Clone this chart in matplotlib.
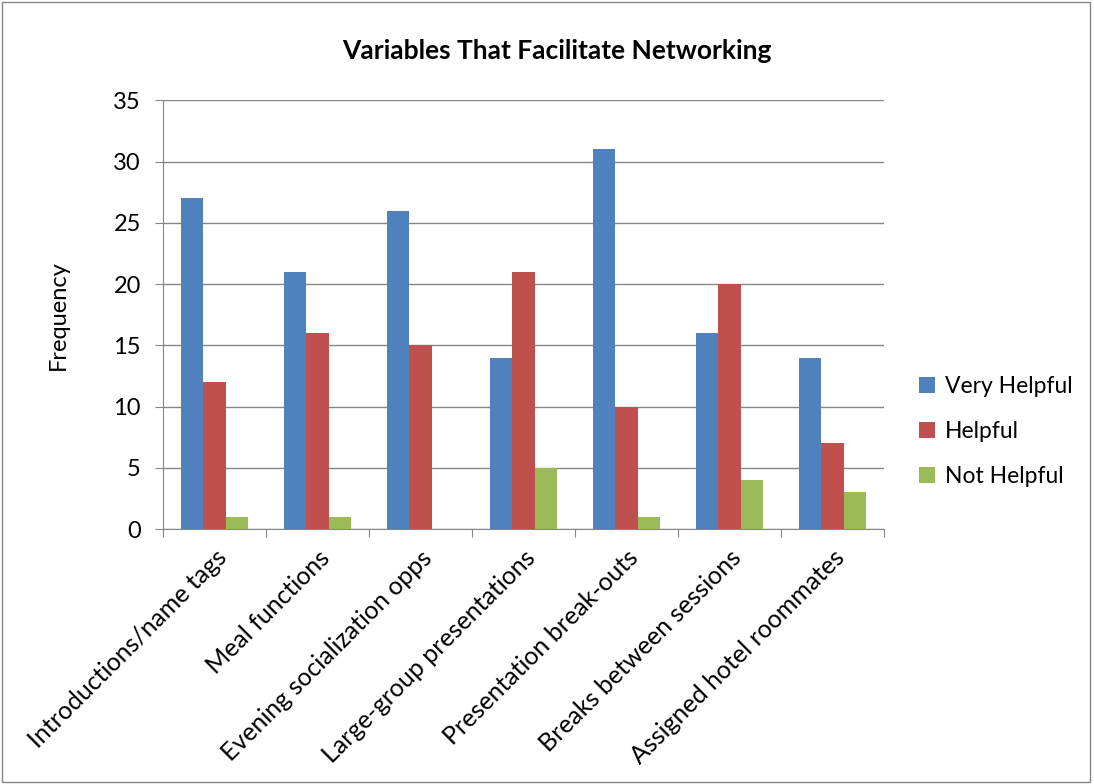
import matplotlib.pyplot as plt
import numpy as np
from matplotlib.patches import Rectangle

plt.rcParams['font.family'] = ['Lato', 'DejaVu Sans']

categories = ['Introductions/name tags', 'Meal functions', 'Evening socialization opps',
              'Large-group presentations', 'Presentation break-outs',
              'Breaks between sessions', 'Assigned hotel roommates']
very_helpful = [27, 21, 26, 14, 31, 16, 14]
helpful = [12, 16, 15, 21, 10, 20, 7]
not_helpful = [1, 1, 0, 5, 1, 4, 3]

fig = plt.figure(figsize=(10.94, 7.84), dpi=100)
ax = fig.add_axes([0.149, 0.325, 0.659, 0.547])

x = np.arange(len(categories))
w = 0.215
ax.bar(x - w, very_helpful, w, color='#4F81BD', label='Very Helpful', zorder=3)
ax.bar(x, helpful, w, color='#C0504D', label='Helpful', zorder=3)
ax.bar(x + w, not_helpful, w, color='#9BBB59', label='Not Helpful', zorder=3)

ax.set_xlim(-0.5, len(categories) - 0.5)
ax.set_ylim(0, 35)
ax.set_yticks(range(0, 36, 5))
ax.yaxis.grid(True, color='#868686', linewidth=1, zorder=0)
ax.set_axisbelow(True)
for s in ['top', 'right']:
    ax.spines[s].set_visible(False)
ax.spines['left'].set_color('#868686')
ax.spines['bottom'].set_color('#868686')

ax.set_xticks(np.arange(len(categories) + 1) - 0.5, minor=False)
ax.set_xticklabels([])
ax.set_xticks(x, minor=True)
ax.set_xticklabels(categories, minor=True, rotation=45, ha='right',
                   rotation_mode='anchor', fontsize=18)
ax.tick_params(axis='x', which='minor', length=0, pad=12)
ax.tick_params(axis='x', which='major', length=6, color='#868686', direction='out')
ax.tick_params(axis='y', length=6, color='#868686', labelsize=17, pad=10)

ax.set_ylabel('Frequency', fontsize=17, labelpad=32)
fig.text(0.509, 0.935, 'Variables That Facilitate Networking', ha='center', va='center',
         fontsize=19, fontweight='bold')

ax.legend(loc='center left', bbox_to_anchor=(1.02, 0.228), frameon=False, fontsize=16.5,
          handlelength=0.7, handleheight=0.7, labelspacing=1.05, handletextpad=0.45)

fig.patches.append(Rectangle((0.002, 0.003), 0.994, 0.994, transform=fig.transFigure,
                             fill=False, edgecolor='#868686', linewidth=1))

fig.savefig('out.png', dpi=100)
